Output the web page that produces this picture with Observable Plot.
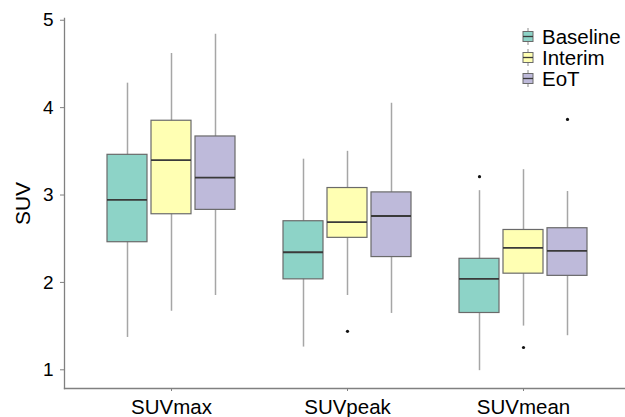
<!DOCTYPE html>
<html><head><meta charset="utf-8">
<script src="https://cdn.jsdelivr.net/npm/d3@7"></script>
<script src="https://cdn.jsdelivr.net/npm/@observablehq/plot@0.6"></script>
<style>
body{margin:0;background:#fff;font-family:"Liberation Sans",Arial,sans-serif;}
#wrap{position:relative;width:625px;height:417px;overflow:hidden;}
#legend{position:absolute;left:522px;top:26px;font-size:20.5px;line-height:21px;color:#000;}
#legend .row{display:flex;align-items:center;height:21px;white-space:nowrap;}
#legend svg{margin-right:8px;}
</style></head>
<body><div id="wrap"><div id="chart"></div><div id="legend"></div></div>
<script>
const metrics = ["SUVmax", "SUVpeak", "SUVmean"];
const groups = ["Baseline", "Interim", "EoT"];
const colors = ["#8dd3c7", "#ffffb3", "#bebada"];
// rows: metric; columns: group (Baseline, Interim, EoT)
const whiskerLow  = [[1.37, 1.67, 1.85], [1.26, 1.85, 1.645], [0.99, 1.50, 1.39]];
const q1          = [[2.46, 2.78, 2.83], [2.035, 2.51, 2.29], [1.65, 2.10, 2.075]];
const median      = [[2.945, 3.40, 3.20], [2.345, 2.69, 2.76], [2.04, 2.395, 2.36]];
const q3          = [[3.46, 3.85, 3.67], [2.70, 3.08, 3.03], [2.27, 2.60, 2.62]];
const whiskerHigh = [[4.28, 4.62, 4.84], [3.41, 3.50, 4.05], [3.05, 3.29, 3.04]];
const outlierMetric = ["SUVpeak", "SUVmean", "SUVmean", "SUVmean"];
const outlierGroup  = ["Interim", "Baseline", "Interim", "EoT"];
const outlierValue  = [1.44, 3.21, 1.255, 3.865];
const yTicks = [1, 2, 3, 4, 5];
const yLabel = "SUV";

// dodged band positions: metric|group, with one empty slot between metric groups
const key = (m, g) => `${m}|${g}`;
const xDomain = [];
metrics.forEach((m, i) => {
  if (i > 0) xDomain.push(`gap${i}`);
  groups.forEach(g => xDomain.push(key(m, g)));
});

const boxes = [];
metrics.forEach((m, i) => groups.forEach((g, j) => boxes.push({
  key: key(m, g), group: g, lo: whiskerLow[i][j], q1: q1[i][j], med: median[i][j], q3: q3[i][j], hi: whiskerHigh[i][j]
})));
const outliers = outlierValue.map((v, k) => ({key: key(outlierMetric[k], outlierGroup[k]), value: v}));

const axisColor = "#808080";
const yMin = 0.786;

const chart = Plot.plot({
  width: 625, height: 417,
  marginTop: 18, marginBottom: 29, marginLeft: 64, marginRight: 0,
  style: {fontFamily: "'Liberation Sans', Arial, sans-serif", background: "#fff", color: "#000"},
  x: {domain: xDomain, range: [64, 630], paddingInner: 0, paddingOuter: 0.895},
  y: {domain: [yMin, 5.02]},
  color: {domain: groups, range: colors},
  marks: [
    Plot.frame({anchor: "bottom", stroke: axisColor, strokeWidth: 1.3}),
    Plot.frame({anchor: "left", stroke: axisColor, strokeWidth: 1.3}),
    Plot.axisY({ticks: yTicks, tickFormat: d => String(d), tickSize: 4, tickPadding: 7, fontSize: 19, label: null, stroke: axisColor, color: "#000"}),
    Plot.axisY({ticks: [], label: yLabel, labelAnchor: "center", labelArrow: false, labelOffset: 49, fontSize: 21, color: "#000"}),
    Plot.axisX({ticks: metrics.map(m => key(m, groups[1])), tickFormat: k => k.split("|")[0], tickSize: 3, tickPadding: 8, fontSize: 20.5, label: null, stroke: axisColor}),
    Plot.ruleX(boxes, {x: "key", y1: "lo", y2: "hi", stroke: "#a6a6a6", strokeWidth: 1.5}),
    Plot.barY(boxes, {x: "key", y1: "q1", y2: "q3", fill: "group", stroke: "#6a6a6a", strokeWidth: 1.2, insetLeft: 2, insetRight: 2}),
    Plot.tickY(boxes, {x: "key", y: "med", stroke: "#3a3a3a", strokeWidth: 1.8, insetLeft: 2, insetRight: 2}),
    Plot.dot(outliers, {x: "key", y: "value", r: 1.6, fill: "#111", stroke: null})
  ]
});
document.getElementById("chart").appendChild(chart);

const legend = document.getElementById("legend");
groups.forEach((g, j) => {
  const row = document.createElement("div");
  row.className = "row";
  row.innerHTML = `<svg width="12" height="19" viewBox="0 0 12 19"><line x1="6" x2="6" y1="1" y2="18" stroke="#a6a6a6" stroke-width="1.3"/><rect x="1" y="4.5" width="10" height="10" fill="${colors[j]}" stroke="#6a6a6a" stroke-width="1"/><line x1="1" x2="11" y1="9.5" y2="9.5" stroke="#3a3a3a" stroke-width="1.3"/></svg><span>${g}</span>`;
  legend.appendChild(row);
});
</script>
</body></html>
